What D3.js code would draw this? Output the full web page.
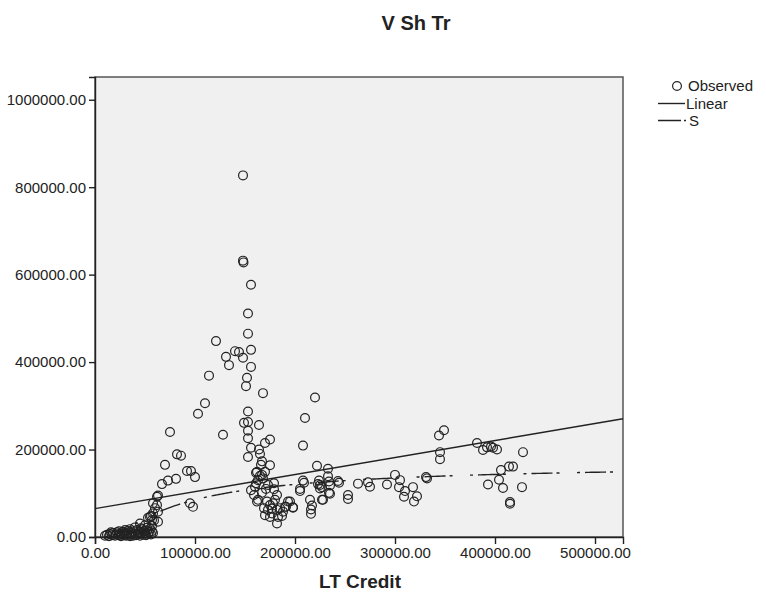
<!DOCTYPE html>
<html>
<head>
<meta charset="utf-8">
<script src="https://cdn.jsdelivr.net/npm/d3@7"></script>
<style>
  body { margin: 0; background: #fff; }
  text { font-family: "Liberation Sans", Arial, sans-serif; fill: #222; }
</style>
</head>
<body>
<div id="chart-area"></div>
<script>
// LT Credit (x)
const ltCredit = [
  148000,148000,148500,156000,153000,153000,121000,156000,140000,144000,
  131000,148000,134000,156000,114000,152000,151000,168000,220000,110000,
  103000,153000,210000,149000,153000,75000,128000,164000,153000,153000,
  175000,170000,344000,349000,208000,156000,164000,165000,82000,86000,
  382000,388000,392000,396000,398000,402000,345000,345000,428000,153000,
  70000,167000,166000,175000,92000,96000,100000,222000,233000,414000,
  418000,406000,161000,167000,67000,73000,81000,300000,233000,223000,
  209000,244000,263000,273000,275000,292000,305000,304000,310000,309000,
  318000,322000,319000,331000,332000,404000,393000,408000,427000,415000,
  415000,253000,253000,205000,205000,227000,215000,217000,216000,216000,
  235000,227000,243000,224000,208000,234000,234000,228000,225000,235000,
  225000,195000,198000,191000,98000,95000,
  162000,170000,168000,163000,179000,173000,161000,156000,167000,159000,
  162000,179000,182000,172000,175000,178000,169000,173000,177000,182000,
  185000,187000,182000,170000,190000,193000,198000,188000,183000,175000,
  177000,180000,163000,165000,171000,160000,
  62000,63000,58000,62000,63000,58000,63000,57000,55000,60000,
  56000,53000,59000,57000,52000,45000,50000,
  10000,12000,14000,15000,17000,18000,20000,21000,22000,24000,
  25000,26000,27000,28000,29000,30000,31000,32000,33000,34000,
  35000,36000,37000,38000,39000,40000,41000,42000,43000,44000,
  45000,46000,47000,48000,49000,50000,51000,52000,53000,54000,
  55000,56000,57000,58000,30000,24000,16000,46000,40000,35000
];

// V Sh Tr (y), same order
const vShTr = [
  827000,632000,628000,577000,511000,465000,448000,428000,425000,423000,
  412000,410000,393000,389000,369000,364000,345000,329000,319000,306000,
  282000,287000,272000,261000,263000,240000,234000,256000,243000,226000,
  223000,215000,232000,244000,209000,204000,200000,190000,189000,186000,
  215000,199000,205000,207000,204000,200000,194000,178000,194000,183000,
  165000,173000,165000,164000,151000,151000,137000,163000,156000,161000,
  161000,153000,147000,142000,121000,129000,133000,142000,139000,121000,
  124000,124000,122000,125000,115000,120000,130000,114000,105000,92000,
  114000,93000,81000,137000,134000,131000,120000,112000,114000,80000,
  76000,96000,87000,105000,110000,85000,85000,72000,63000,53000,
  118000,114000,128000,129000,129000,127000,101000,85000,119000,99000,
  111000,81000,67000,69000,69000,77000,
  149000,149000,134000,130000,123000,119000,123000,107000,101000,96000,
  81000,109000,96000,81000,73000,77000,66000,62000,54000,62000,
  66000,48000,31000,50000,69000,81000,68000,58000,46000,46000,
  65000,85000,85000,140000,110000,115000,
  92000,95000,77000,73000,58000,54000,35000,39000,46000,66000,
  48000,44000,38000,25000,21000,31000,27000,
  3000,5000,2000,7000,4000,9000,3000,6000,11000,4000,
  8000,2000,6000,12000,4000,9000,3000,7000,14000,5000,
  2000,10000,6000,3000,13000,8000,4000,16000,6000,11000,
  3000,8000,18000,5000,13000,9000,4000,15000,7000,11000,
  19000,6000,13000,9000,16000,13000,11000,20000,22000,18000
];

const xTicks = [0, 100000, 200000, 300000, 400000, 500000];
const yTicks = [0, 200000, 400000, 600000, 800000, 1000000];

// fitted models shown on the chart
const linearFit = [65000, 0.389];      // intercept, slope
const sFit = [12.044, -69250];         // y = exp(b0 + b1 / x)
const legendLabels = ["Observed", "Linear", "S"];

const MARGIN = { LEFT: 95, RIGHT: 143, TOP: 77, BOTTOM: 59 }
const WIDTH = 766 - MARGIN.LEFT - MARGIN.RIGHT
const HEIGHT = 596 - MARGIN.TOP - MARGIN.BOTTOM

const svg = d3.select("#chart-area").append("svg")
      .attr("width", 766)
      .attr("height", 596)

const g = svg.append("g")
      .attr("transform", `translate(${MARGIN.LEFT}, ${MARGIN.TOP})`)

const x = d3.scaleLinear().domain([0, 528000]).range([0, WIDTH])
const y = d3.scaleLinear().domain([0, 1052000]).range([HEIGHT, 0])

// plot background
g.append("rect")
      .attr("width", WIDTH)
      .attr("height", HEIGHT)
      .attr("fill", "#f0f0f0")
      .attr("stroke", "#555")
      .attr("stroke-width", 1.5)

// title
svg.append("text")
      .attr("x", 416)
      .attr("y", 30)
      .attr("font-size", "20px")
      .attr("font-weight", "bold")
      .attr("text-anchor", "middle")
      .text("V Sh Tr")

// X label
svg.append("text")
      .attr("x", 360)
      .attr("y", 588)
      .attr("font-size", "19px")
      .attr("font-weight", "bold")
      .attr("text-anchor", "middle")
      .text("LT Credit")

const xAxisCall = d3.axisBottom(x)
      .tickValues(xTicks)
      .tickFormat(d3.format(".2f"))
      .tickSizeOuter(0)
      .tickSize(7)
const xAxis = g.append("g")
      .attr("transform", `translate(0, ${HEIGHT})`)
      .call(xAxisCall)

const yAxisCall = d3.axisLeft(y)
      .tickValues(yTicks)
      .tickFormat(d3.format(".2f"))
      .tickSizeOuter(0)
      .tickSize(6)
const yAxis = g.append("g").call(yAxisCall)

g.selectAll(".tick text")
      .attr("font-size", "15px")
      .attr("font-family", "Liberation Sans, Arial, sans-serif")
      .attr("fill", "#222")
g.selectAll(".domain, .tick line")
      .attr("stroke", "#222")
      .attr("stroke-width", 1.4)

// fit lines
const linear = d => linearFit[0] + linearFit[1] * d
g.append("line")
      .attr("x1", x(0))
      .attr("y1", y(linear(0)))
      .attr("x2", x(528000))
      .attr("y2", y(linear(528000)))
      .attr("stroke", "#222")
      .attr("stroke-width", 1.4)

const sLine = d3.line()
      .x(d => x(d))
      .y(d => y(Math.exp(sFit[0] + sFit[1] / d)))
g.append("path")
      .datum(d3.range(d3.min(ltCredit), 528000, 2000).concat([528000]))
      .attr("d", sLine)
      .attr("fill", "none")
      .attr("stroke", "#222")
      .attr("stroke-width", 1.4)
      .attr("stroke-dasharray", "3,5,21,4,3,17.5")

// observed points
g.selectAll("circle.obs")
      .data(ltCredit)
      .enter().append("circle")
      .attr("class", "obs")
      .attr("cx", d => x(d))
      .attr("cy", (d, i) => y(vShTr[i]))
      .attr("r", 4.4)
      .attr("fill", "none")
      .attr("stroke", "#222")
      .attr("stroke-width", 1.2)

// legend
const legend = svg.append("g")
legend.append("circle")
      .attr("cx", 677)
      .attr("cy", 86)
      .attr("r", 4.4)
      .attr("fill", "none")
      .attr("stroke", "#222")
      .attr("stroke-width", 1.2)
legend.append("line")
      .attr("x1", 658).attr("x2", 685)
      .attr("y1", 103.5).attr("y2", 103.5)
      .attr("stroke", "#222").attr("stroke-width", 1.4)
legend.append("line")
      .attr("x1", 658).attr("x2", 686)
      .attr("y1", 120.5).attr("y2", 120.5)
      .attr("stroke", "#222").attr("stroke-width", 1.4)
      .attr("stroke-dasharray", "23,3,2,10")
legend.selectAll("text")
      .data(legendLabels)
      .enter().append("text")
      .attr("x", (d, i) => [688, 686, 689][i])
      .attr("y", (d, i) => 86 + i * 17.3)
      .attr("dy", "0.35em")
      .attr("font-size", "15px")
      .text(d => d)
</script>
</body>
</html>
